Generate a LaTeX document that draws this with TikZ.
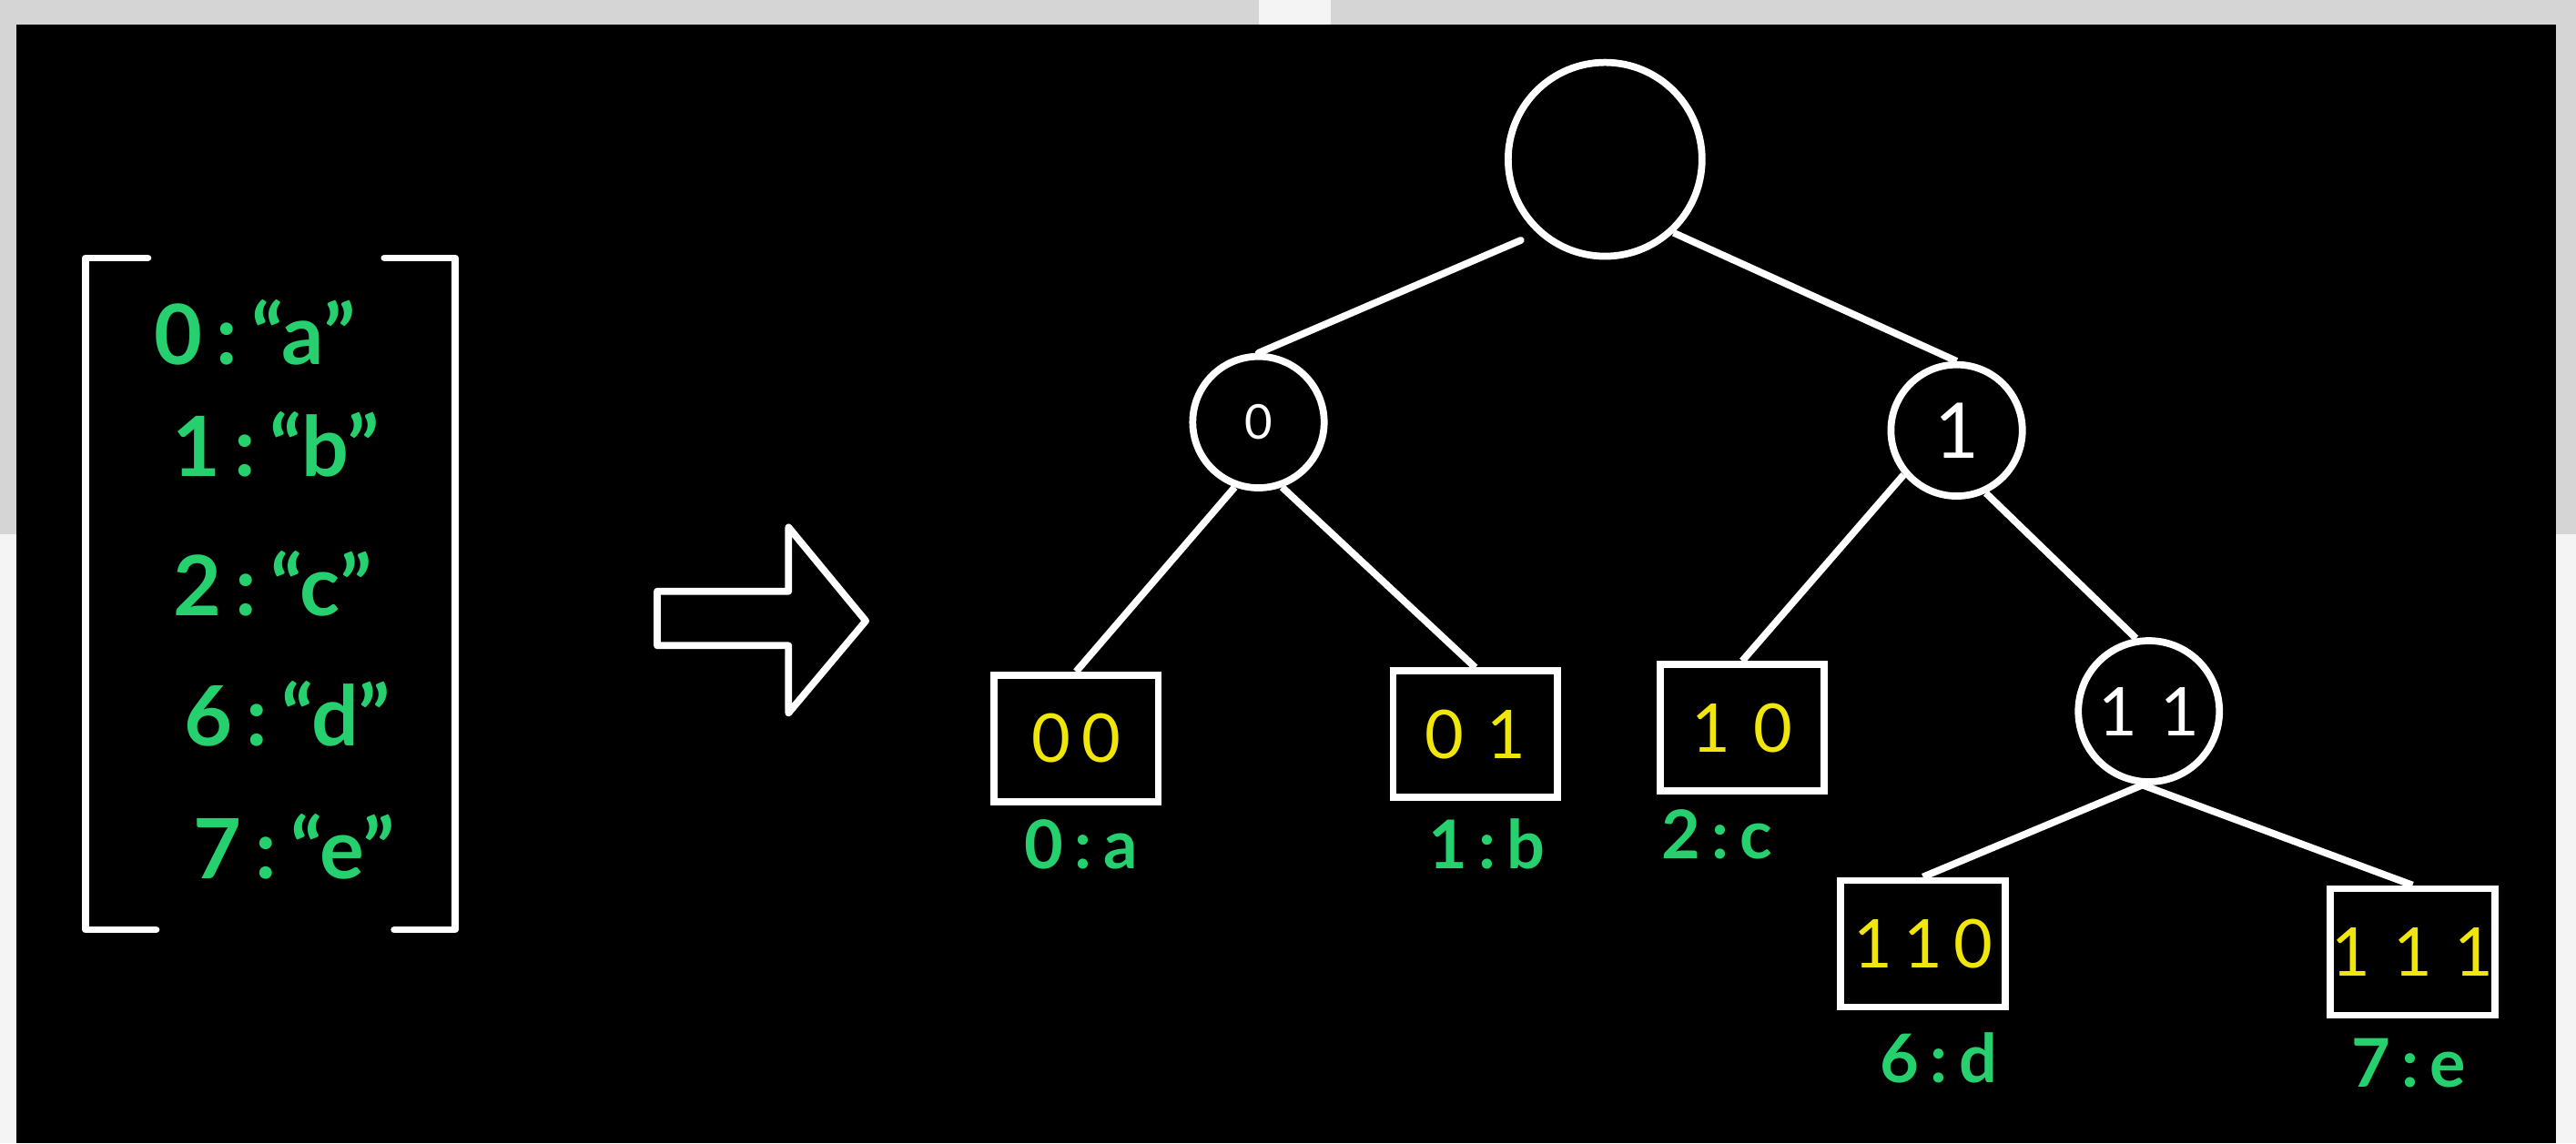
\documentclass[tikz,border=0pt]{standalone}
\usepackage{fontspec}
\setmainfont{Lato}
\usetikzlibrary{calc}
\definecolor{boardgreen}{RGB}{38,208,110}
\definecolor{boardyellow}{RGB}{240,230,10}
\definecolor{framegray}{RGB}{213,213,213}
\definecolor{framewhite}{RGB}{244,244,244}
\tikzset{
	chalk/.style={draw=white, line width=2.2pt},
	inner/.style={chalk, circle, inner sep=0pt, text=white, font=\fontsize{21}{24}\selectfont},
	leaf/.style={chalk, rectangle, inner sep=0pt, minimum width=1.805cm, minimum height=1.39cm, text=boardyellow, font=\fontsize{21}{24}\selectfont},
	entry/.style={text=boardgreen, anchor=base, inner sep=0pt, font=\fontsize{26}{30}\selectfont\bfseries},
	leaflabel/.style={text=boardgreen, anchor=base, inner sep=0pt, font=\fontsize{21}{24}\selectfont\bfseries}
}

\begin{document}
\begin{tikzpicture}[x=0.01805cm, y=-0.01805cm]
		%%%%% FRAME %%%%%
		\fill[framewhite] (0, 0) rectangle (1568, 696);
		\fill[framegray] (0, 0) rectangle (1568, 15);
		\fill[framewhite] (766, 0) rectangle (810, 15);
		\fill[framegray] (0, 15) rectangle (10, 325);
		\fill[framegray] (1556, 15) rectangle (1568, 325);
		\fill[black] (10, 15) rectangle (1556, 696);
		\useasboundingbox (0, 0) rectangle (1568, 696);
		
		%%%%% LIST %%%%%
		\draw[chalk, line cap=round, line join=round] (90, 157) -- (52, 157) -- (52, 566) -- (95, 566);
		\draw[chalk, line cap=round, line join=round] (234, 157) -- (277, 157) -- (277, 566) -- (240, 566);
		
		\node[entry] (e0) at (155, 222) {0\,:\,“a”};
		\node[entry] (e1) at (168, 290) {1\,:\,“b”};
		\node[entry] (e2) at (166, 375) {2\,:\,“c”};
		\node[entry] (e6) at (175, 454) {6\,:\,“d”};
		\node[entry] (e7) at (179, 535) {7\,:\,“e”};
		
		%%%%% ARROW %%%%%
		\draw[chalk, line join=round] (400, 360) -- (480, 360) -- (480, 321) -- (527, 378) -- (480, 434) -- (480, 393) -- (400, 393) -- cycle;
		
		%%%%% TREE %%%%%
		\node[inner, minimum size=2.13cm] (root) at (977, 97) {};
		\node[inner, minimum size=1.444cm, font=\fontsize{15}{17}\selectfont] (n0) at (766, 257) {0};
		\node[inner, minimum size=1.444cm, font=\fontsize{24}{26}\selectfont] (n1) at (1191, 262) {1};
		\node[inner, minimum size=1.55cm] (n11) at (1308, 433) {1\,\,1};
		
		\node[leaf] (b00) at (655, 449.5) {0\,0};
		\node[leaf] (b01) at (898, 447) {0\,\,1};
		\node[leaf] (b10) at (1060.5, 443) {1\,\,0};
		\node[leaf] (b110) at (1170.5, 574.5) {1\,1\,0};
		\node[leaf] (b111) at (1468.5, 579.5) {1\,\,1\,\,1};
		
		\node[leaflabel] (l00) at (658, 529) {0\,:\,a};
		\node[leaflabel] (l01) at (905, 529) {1\,:\,b};
		\node[leaflabel] (l10) at (1045, 523) {2\,:\,c};
		\node[leaflabel] (l110) at (1180, 659) {6\,:\,d};
		\node[leaflabel] (l111) at (1466, 662) {7\,:\,e};
		
		\draw[chalk, line cap=round] ($(root.225)+(-8,6)$) -- (n0.north);
		\draw[chalk] (root.-47) -- (n1.north);
		\draw[chalk] (n0.-110) -- (b00.north);
		\draw[chalk] (n0.-70) -- (b01.north);
		\draw[chalk] (n1.-140) -- (b10.north);
		\draw[chalk] (n1.-65) -- (n11.100);
		\draw[chalk] (n11.-95) -- (b110.north);
		\draw[chalk] (n11.-95) -- (b111.north);
		%%%%% END %%%%%
	\end{tikzpicture}
\end{document}
